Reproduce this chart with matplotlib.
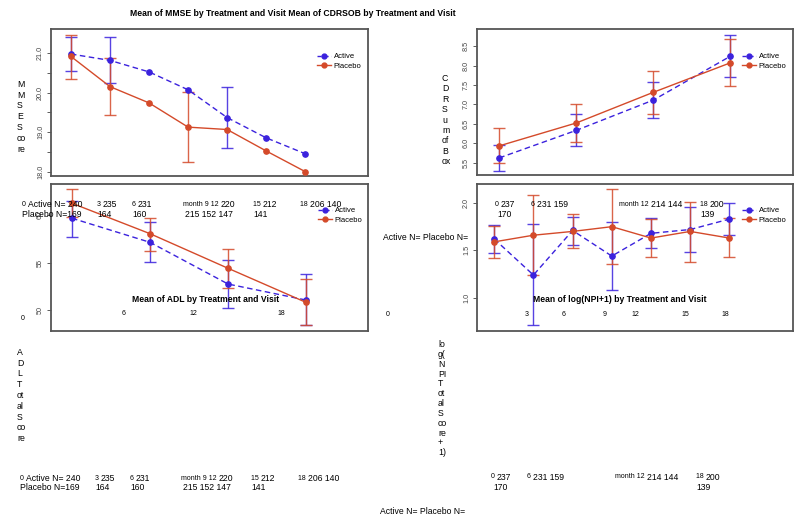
import numpy as np
import matplotlib
matplotlib.use("Agg")
import matplotlib.pyplot as plt
from matplotlib.lines import Line2D

plt.rcParams['font.family'] = ['Liberation Sans', 'DejaVu Sans']

BLUE = '#3b22dd'
RED = '#d44a2a'
nan = np.nan

# ---------------- data ----------------
months7 = [0, 3, 6, 9, 12, 15, 18]
months4 = [0, 6, 12, 18]

mmse_active = [20.97, 20.81, 20.52, 20.07, 19.37, 18.86, 18.46]
mmse_active_lo = [20.55, 20.24, nan, nan, 18.61, nan, nan]
mmse_active_hi = [21.39, 21.40, nan, nan, 20.14, nan, nan]
mmse_placebo = [20.91, 20.15, 19.74, 19.13, 19.07, 18.53, 18.01]
mmse_placebo_lo = [20.35, 19.43, nan, 18.25, nan, nan, nan]
mmse_placebo_hi = [21.46, 20.88, nan, 20.01, nan, nan, nan]

cdr_active = [5.62, 6.33, 7.11, 8.24]
cdr_active_lo = [5.28, 5.93, 6.65, 7.70]
cdr_active_hi = [5.95, 6.74, 7.57, 8.79]
cdr_placebo = [5.93, 6.52, 7.31, 8.07]
cdr_placebo_lo = [5.48, 6.04, 6.74, 7.47]
cdr_placebo_hi = [6.38, 7.00, 7.87, 8.68]

adl_active = [59.69, 57.15, 52.75, 51.06]
adl_active_lo = [57.75, 55.04, 50.20, 48.40]
adl_active_hi = [61.50, 59.27, 55.25, 53.80]
adl_placebo = [61.27, 58.06, 54.41, 50.81]
adl_placebo_lo = [59.80, 56.27, 52.36, 48.40]
adl_placebo_hi = [62.75, 59.75, 56.48, 53.25]

npi_active = [1.62, 1.24, 1.71, 1.44, 1.68, 1.72, 1.83]
npi_active_lo = [1.47, 0.71, 1.56, 1.08, 1.52, 1.48, 1.66]
npi_active_hi = [1.77, 1.78, 1.85, 1.80, 1.84, 1.96, 2.00]
npi_placebo = [1.59, 1.66, 1.70, 1.75, 1.63, 1.70, 1.63]
npi_placebo_lo = [1.42, 1.24, 1.52, 1.36, 1.43, 1.38, 1.43]
npi_placebo_hi = [1.76, 2.08, 1.88, 2.15, 1.83, 2.01, 1.84]

W, H = 800, 522
fig = plt.figure(figsize=(8, 5.22), dpi=100)


def ax_px(l, t, r, b):
    return fig.add_axes([l / W, 1 - b / H, (r - l) / W, (b - t) / H])


def ftext(x, y, s, size=6, **kw):
    fig.text(x / W, 1 - y / H, s, fontsize=size, va='center', ha='left', **kw)


def panel(ax, x, act, alo, ahi, plc, plo, phi, xlim, ylim, yticks, ytl, leg_xy):
    x = np.array(x, float)
    for vals, lo, hi, col, ls in [(act, alo, ahi, BLUE, (0, (4, 2.5))),
                                   (plc, plo, phi, RED, '-')]:
        vals = np.array(vals, float)
        lo = np.array(lo, float)
        hi = np.array(hi, float)
        m = ~np.isnan(lo)
        ax.errorbar(x[m], vals[m], yerr=[vals[m] - lo[m], hi[m] - vals[m]],
                    fmt='none', ecolor=col, elinewidth=1.0, capsize=4.5,
                    capthick=1.0, alpha=0.85, zorder=2)
        ax.plot(x, vals, color=col, ls=ls, lw=1.0, marker='o', ms=3.8,
                zorder=3)
    ax.set_xlim(*xlim)
    ax.set_ylim(*ylim)
    ax.set_xticks([])
    ax.set_yticks(yticks)
    ax.set_yticklabels(ytl, rotation=90, va='center', fontsize=5.2,
                       color='#444444')
    ax.tick_params(axis='y', length=3, width=0.6, color='#444444', pad=2)
    for s in ax.spines.values():
        s.set_color('#555555')
        s.set_linewidth(1.3)
    handles = [Line2D([], [], color=BLUE, ls=(0, (3, 2)), lw=1.0, marker='o', ms=3.5),
               Line2D([], [], color=RED, ls='-', lw=1.0, marker='o', ms=3.5)]
    ax.legend(handles, ['Active', 'Placebo'], loc='upper left',
              bbox_to_anchor=(leg_xy[0] / W, 1 - leg_xy[1] / H),
              bbox_transform=fig.transFigure, frameon=False, fontsize=5.5,
              handlelength=1.8, handletextpad=0.4, labelspacing=0.25,
              borderpad=0, borderaxespad=0)


ax1 = ax_px(51, 29, 368, 176)
panel(ax1, months7, mmse_active, mmse_active_lo, mmse_active_hi,
      mmse_placebo, mmse_placebo_lo, mmse_placebo_hi,
      (-1.53, 22.82), (17.9, 21.6), [18, 18.5, 19, 19.5, 20, 20.5, 21],
      ['18.0', '', '19.0', '', '20.0', '', '21.0'], (317, 53))

ax2 = ax_px(477, 29, 793, 175)
panel(ax2, months4, cdr_active, cdr_active_lo, cdr_active_hi,
      cdr_placebo, cdr_placebo_lo, cdr_placebo_hi,
      (-1.73, 22.87), (5.18, 8.94), [5.5, 6.0, 6.5, 7.0, 7.5, 8.0, 8.5],
      ['5.5', '6.0', '6.5', '7.0', '7.5', '8.0', '8.5'], (742, 53))

ax3 = ax_px(51, 184, 368, 331)
panel(ax3, months4, adl_active, adl_active_lo, adl_active_hi,
      adl_placebo, adl_placebo_lo, adl_placebo_hi,
      (-1.61, 22.75), (47.8, 63.3), [50, 55, 60],
      ['50', '55', '60'], (318, 207))

ax4 = ax_px(477, 184, 793, 331)
panel(ax4, months7, npi_active, npi_active_lo, npi_active_hi,
      npi_placebo, npi_placebo_lo, npi_placebo_hi,
      (-1.32, 22.87), (0.65, 2.2), [1.0, 1.5, 2.0],
      ['1.0', '1.5', '2.0'], (742, 207))

# ---------------- titles ----------------
fig.text(130 / W, 1 - 13 / H,
         'Mean of MMSE by Treatment and Visit Mean of CDRSOB by Treatment and Visit',
         fontsize=6.2, fontweight='bold', ha='left', va='center')
fig.text(206 / W, 1 - 299 / H, 'Mean of ADL by Treatment and Visit',
         fontsize=6.2, fontweight='bold', ha='center', va='center', zorder=10)
fig.text(620 / W, 1 - 299 / H, 'Mean of log(NPI+1) by Treatment and Visit',
         fontsize=6.2, fontweight='bold', ha='center', va='center', zorder=10)

# ---------------- stacked y labels ----------------
ylabel_mmse = ['M', 'M', 'S', 'E', 'S', 'co', 're']
ylabel_cdr = ['C', 'D', 'R', 'S', 'u', 'm', 'of', 'B', 'ox']
ylabel_adl = ['A', 'D', 'L', 'T', 'ot', 'al', 'S', 'co', 're']
ylabel_npi = ['lo', 'g(', 'N', 'PI', 'T', 'ot', 'al', 'S', 'co', 're', '+', '1)']

fig.text(17 / W, 1 - 80 / H, '\n'.join(ylabel_mmse), fontsize=6.3,
         ha='left', va='top', linespacing=1.25)
fig.text(442 / W, 1 - 74 / H, '\n'.join(ylabel_cdr), fontsize=6.3,
         ha='left', va='top', linespacing=1.2)
fig.text(17 / W, 1 - 348 / H, '\n'.join(ylabel_adl), fontsize=6.3,
         ha='left', va='top', linespacing=1.25)
fig.text(438 / W, 1 - 340 / H, '\n'.join(ylabel_npi), fontsize=6.3,
         ha='left', va='top', linespacing=1.12)

# ---------------- N-at-risk texts ----------------
active_row = [(22, '0', 'Active N= 240'), (97, '3', '235'), (132, '6', '231'),
              (183, 'month 9 12', '220'), (253, '15', '212'),
              (300, '18', '206 140')]
placebo_row = [(22, 'Placebo N=169'), (97, '164'), (132, '160'),
               (185, '215 152 147'), (253, '141')]


def n_rows(y1, y2, dx=0):
    for x, small, big in active_row:
        t = fig.text((x + dx) / W, 1 - y1 / H, small + ' ', fontsize=5,
                     ha='left', va='center', zorder=10)
        fig.canvas.draw()
        bb = t.get_window_extent()
        fig.text(bb.x1 / W, 1 - y1 / H, big, fontsize=6.2, ha='left',
                 va='center', zorder=10)
    for x, s in placebo_row:
        fig.text((x + dx) / W, 1 - y2 / H, s, fontsize=6.2, ha='left',
                 va='center', zorder=10)


n_rows(204.5, 214.5)
n_rows(478.5, 488, dx=-2)

npi_row1 = [(495, '0', '237'), (531, '6', '231 159'), (619, 'month 12', '214 144'),
            (700, '18', '200')]
npi_row2 = [(497, '170'), (700, '139')]


def npi_rows(y1, y2, dx=0):
    for x, small, big in npi_row1:
        t = fig.text((x + dx) / W, 1 - y1 / H, small + ' ', fontsize=5,
                     ha='left', va='center', zorder=10)
        fig.canvas.draw()
        bb = t.get_window_extent()
        fig.text(bb.x1 / W, 1 - y1 / H, big, fontsize=6.2, ha='left',
                 va='center', zorder=10)
    for x, s in npi_row2:
        fig.text((x + dx) / W, 1 - y2 / H, s, fontsize=6.2, ha='left',
                 va='center', zorder=10)


npi_rows(204.5, 215)
npi_rows(477, 488, dx=-4)

fig.text(383 / W, 1 - 237 / H, 'Active N= Placebo N=', fontsize=6.2,
         ha='left', va='center')
fig.text(380 / W, 1 - 511 / H, 'Active N= Placebo N=', fontsize=6.2,
         ha='left', va='center')

# ---------------- stray month labels ----------------
adl_months = [(23, 318, '0'), (124, 313.5, '6'), (193, 313.5, '12'),
              (281, 313.5, '18'), (388, 314, '0')]
for x, y, s in adl_months:
    fig.text(x / W, 1 - y / H, s, fontsize=5, ha='center', va='center',
             zorder=10)
npi_months = [(527, '3'), (564, '6'), (605, '9'), (635, '12'), (685, '15'),
              (725, '18')]
for x, s in npi_months:
    fig.text(x / W, 1 - 314 / H, s, fontsize=5, ha='center', va='center',
             zorder=10)

fig.savefig('out.png', dpi=100)
